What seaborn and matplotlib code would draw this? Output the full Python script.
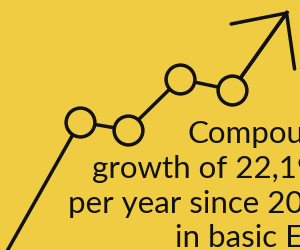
import numpy as np
import pandas as pd
import seaborn as sns
import matplotlib.pyplot as plt

# values (pixel-like units, y up)
steps = [6, 80, 128, 180, 232, 288]
level = [-3, 128, 120, 171, 160, 239]
marked = [1, 2, 3, 4]  # points drawn with a circle

label = "Compound\ngrowth of 22,19%\nper year since 2011\nin basic EPS"

bg = "#EFCC42"
ink = "#111111"

df = pd.DataFrame({"x": steps, "y": level})
pts = df.iloc[marked]

sns.set_style("white")
plt.rcParams["font.family"] = ["Lato", "DejaVu Sans"]

fig = plt.figure(figsize=(3.0, 2.51), dpi=100, facecolor=bg)
ax = fig.add_axes([0, 0, 1, 1])
ax.set_facecolor(bg)

sns.lineplot(data=df, x="x", y="y", color=ink, lw=2.5, ax=ax, zorder=2,
             solid_capstyle="butt")
ax.annotate("", xy=(steps[-1], level[-1]), xytext=(steps[-2], level[-2]),
            arrowprops=dict(arrowstyle="->,head_length=2.95,head_width=2.8",
                            lw=2.5, color=ink, mutation_scale=10,
                            shrinkA=0, shrinkB=0, joinstyle="miter"),
            zorder=2)
sns.scatterplot(data=pts, x="x", y="y", s=430, color=bg, edgecolor=ink,
                linewidth=2.5, ax=ax, zorder=3)

fig.text(1.132, 0.014, label, ha="right", va="baseline", ma="right",
         fontsize=22.5, fontweight="normal", color=ink, linespacing=1.3,
         zorder=5)

ax.set_xlim(0, 300)
ax.set_ylim(0, 251)
ax.axis("off")

fig.savefig("out.png", dpi=100, facecolor=bg)
